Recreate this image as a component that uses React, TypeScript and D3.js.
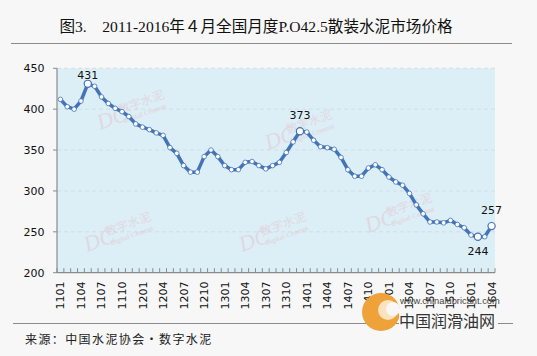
import React from "react";
import * as d3 from "d3";

const categories: string[] = [
  "1101","1102","1103","1104","1105","1106","1107","1108","1109","1110","1111","1112",
  "1201","1202","1203","1204","1205","1206","1207","1208","1209","1210","1211","1212",
  "1301","1302","1303","1304","1305","1306","1307","1308","1309","1310","1311","1312",
  "1401","1402","1403","1404","1405","1406","1407","1408","1409","1410","1411","1412",
  "1501","1502","1503","1504","1505","1506","1507","1508","1509","1510","1511","1512",
  "1601","1602","1603","1604",
];

const prices: number[] = [
  412, 403, 400, 410, 431, 428, 415, 407, 401, 397, 391, 382,
  378, 375, 371, 368, 353, 346, 331, 323, 323, 342, 350, 342,
  331, 326, 326, 335, 336, 331, 327, 331, 335, 347, 360, 373,
  372, 362, 354, 353, 351, 341, 326, 318, 318, 328, 332, 326,
  317, 311, 307, 297, 283, 272, 262, 262, 261, 264, 259, 255,
  246, 244, 244, 257,
];

const yTicks: number[] = [200, 250, 300, 350, 400, 450];
const labeledAbove: string[] = ["1105", "1312", "1604"];
const labeledBelow: string[] = ["1602"];

const title = "图3.　2011-2016年４月全国月度P.O42.5散装水泥市场价格";
const source = "来源：中国水泥协会·数字水泥";

const W = 537;
const H = 356;
const left = 57;
const right = 495;
const top = 68.3;
const bottom = 272.7;

const BG = "#F7F7F7";
const PLOT_BG = "#DDEFF6";
const LINE = "#4373B8";
const AXIS = "#8A8A8A";
const GRID = "#D2DDE6";
const WM = "#E2C3CD";

function Watermark({ x, y }: { x: number; y: number }) {
  return (
    <g transform={`translate(${x},${y}) rotate(-20)`} opacity={0.5}>
      <text x={0} y={0} fontFamily="Liberation Serif, serif" fontStyle="italic" fontSize={22} fill={WM}>
        DC
      </text>
      <text x={24} y={-8} fontFamily="Noto Sans CJK SC, sans-serif" fontSize={12} fill={WM}>
        数字水泥
      </text>
      <text x={25} y={2} fontFamily="Liberation Serif, serif" fontSize={7} fill={WM} fontWeight="bold">
        Digital Cement
      </text>
    </g>
  );
}

export default function App() {
  const x = d3.scalePoint<string>().domain(categories).range([left, right]).padding(0.5);
  const step = x.step();
  const y = d3.scaleLinear().domain([200, 450]).range([bottom, top]);

  const pts = categories.map((c, i) => ({ c, v: prices[i], px: x(c) as number, py: y(prices[i]) }));
  const line = d3.line<(typeof pts)[number]>().x((d) => d.px).y((d) => d.py);

  const boundaries = d3.range(categories.length + 1).map((i) => left + i * step);
  const labelCats = categories.filter((_, i) => i % 3 === 0);
  const labeled = new Set([...labeledAbove, ...labeledBelow]);

  return (
    <svg
      width={W}
      height={H}
      style={{ position: "absolute", left: 0, top: 0, display: "block" }}
      fontFamily="DejaVu Sans, sans-serif"
    >
      <rect x={0} y={0} width={W} height={H} fill={BG} />

      {/* title */}
      <text
        x={256}
        y={32}
        textAnchor="middle"
        fontFamily="Liberation Serif, Noto Sans CJK SC, serif"
        fontSize={15.6}
        fill="#111"
      >
        {title}
      </text>
      <line x1={11} x2={512} y1={43.5} y2={43.5} stroke={AXIS} strokeWidth={1} />

      {/* plot area */}
      <rect x={left} y={top} width={right - left} height={bottom - top} fill={PLOT_BG} />
      {yTicks.filter((t) => t !== 200).map((t) => (
        <line
          key={t}
          x1={left}
          x2={right}
          y1={y(t)}
          y2={y(t)}
          stroke={GRID}
          strokeWidth={1}
          strokeDasharray="4,3"
        />
      ))}

      {/* watermarks */}
      <Watermark x={100} y={130} />
      <Watermark x={268} y={150} />
      <Watermark x={87} y={252} />
      <Watermark x={242} y={252} />
      <Watermark x={368} y={233} />

      {/* axes */}
      <line x1={left} x2={left} y1={top} y2={bottom} stroke={AXIS} strokeWidth={1.2} />
      <line x1={left} x2={right} y1={bottom} y2={bottom} stroke={AXIS} strokeWidth={1.2} />
      {yTicks.map((t) => (
        <g key={t}>
          <line x1={left - 4} x2={left} y1={y(t)} y2={y(t)} stroke={AXIS} strokeWidth={1} />
          <text x={44.5} y={y(t)} dy="0.36em" textAnchor="end" fontSize={11} fill="#111">
            {t}
          </text>
        </g>
      ))}
      {boundaries.map((b, i) => (
        <line key={i} x1={b} x2={b} y1={bottom - 4.5} y2={bottom} stroke={AXIS} strokeWidth={1} />
      ))}
      {labelCats.map((c) => (
        <text
          key={c}
          transform={`translate(${x(c)},${281.5}) rotate(-90)`}
          textAnchor="end"
          dy="0.36em"
          fontSize={11}
          fill="#111"
        >
          {c}
        </text>
      ))}

      {/* series */}
      <path d={line(pts) || ""} fill="none" stroke={LINE} strokeWidth={3.5} strokeLinejoin="round" />
      {pts.map((p) => (
        <circle
          key={p.c}
          cx={p.px}
          cy={p.py}
          r={labeled.has(p.c) ? 3.6 : 2.3}
          fill="#fff"
          stroke={LINE}
          strokeWidth={labeled.has(p.c) ? 1.2 : 0.8}
        />
      ))}
      {pts
        .filter((p) => labeledAbove.includes(p.c))
        .map((p) => (
          <text
            key={p.c}
            x={p.px}
            y={Math.max(p.py - 12, top + 11)}
            textAnchor="middle"
            fontSize={11}
            fill="#111"
          >
            {p.v}
          </text>
        ))}
      {pts
        .filter((p) => labeledBelow.includes(p.c))
        .map((p) => (
          <text key={p.c} x={p.px} y={p.py + 18.7} textAnchor="middle" fontSize={11} fill="#111">
            {p.v}
          </text>
        ))}

      {/* footer */}
      <line x1={13} x2={513} y1={323.5} y2={323.5} stroke={AXIS} strokeWidth={1} />
      <text
        x={25}
        y={344}
        fontFamily="Noto Sans CJK SC, sans-serif"
        fontSize={12}
        letterSpacing={1.4}
        fill="#222"
      >
        {source}
      </text>

      {/* chinalubricant logo watermark */}
      <g>
        <circle cx={381} cy={312} r={19} fill="#F0A23A" />
        <circle cx={388} cy={310} r={10} fill="#FBE3C0" />
        <circle cx={393} cy={309} r={7} fill={BG} />
        <rect x={399} y={309} width={99} height={20} fill={BG} />
        <text x={400} y={304} fontSize={9.3} fill="#444" fontFamily="Liberation Sans, sans-serif">
          www.chinalubricant.com
        </text>
        <text x={399} y={327} fontSize={16} fill="#333" fontFamily="Noto Sans CJK SC, sans-serif">
          中国润滑油网
        </text>
      </g>
    </svg>
  );
}
